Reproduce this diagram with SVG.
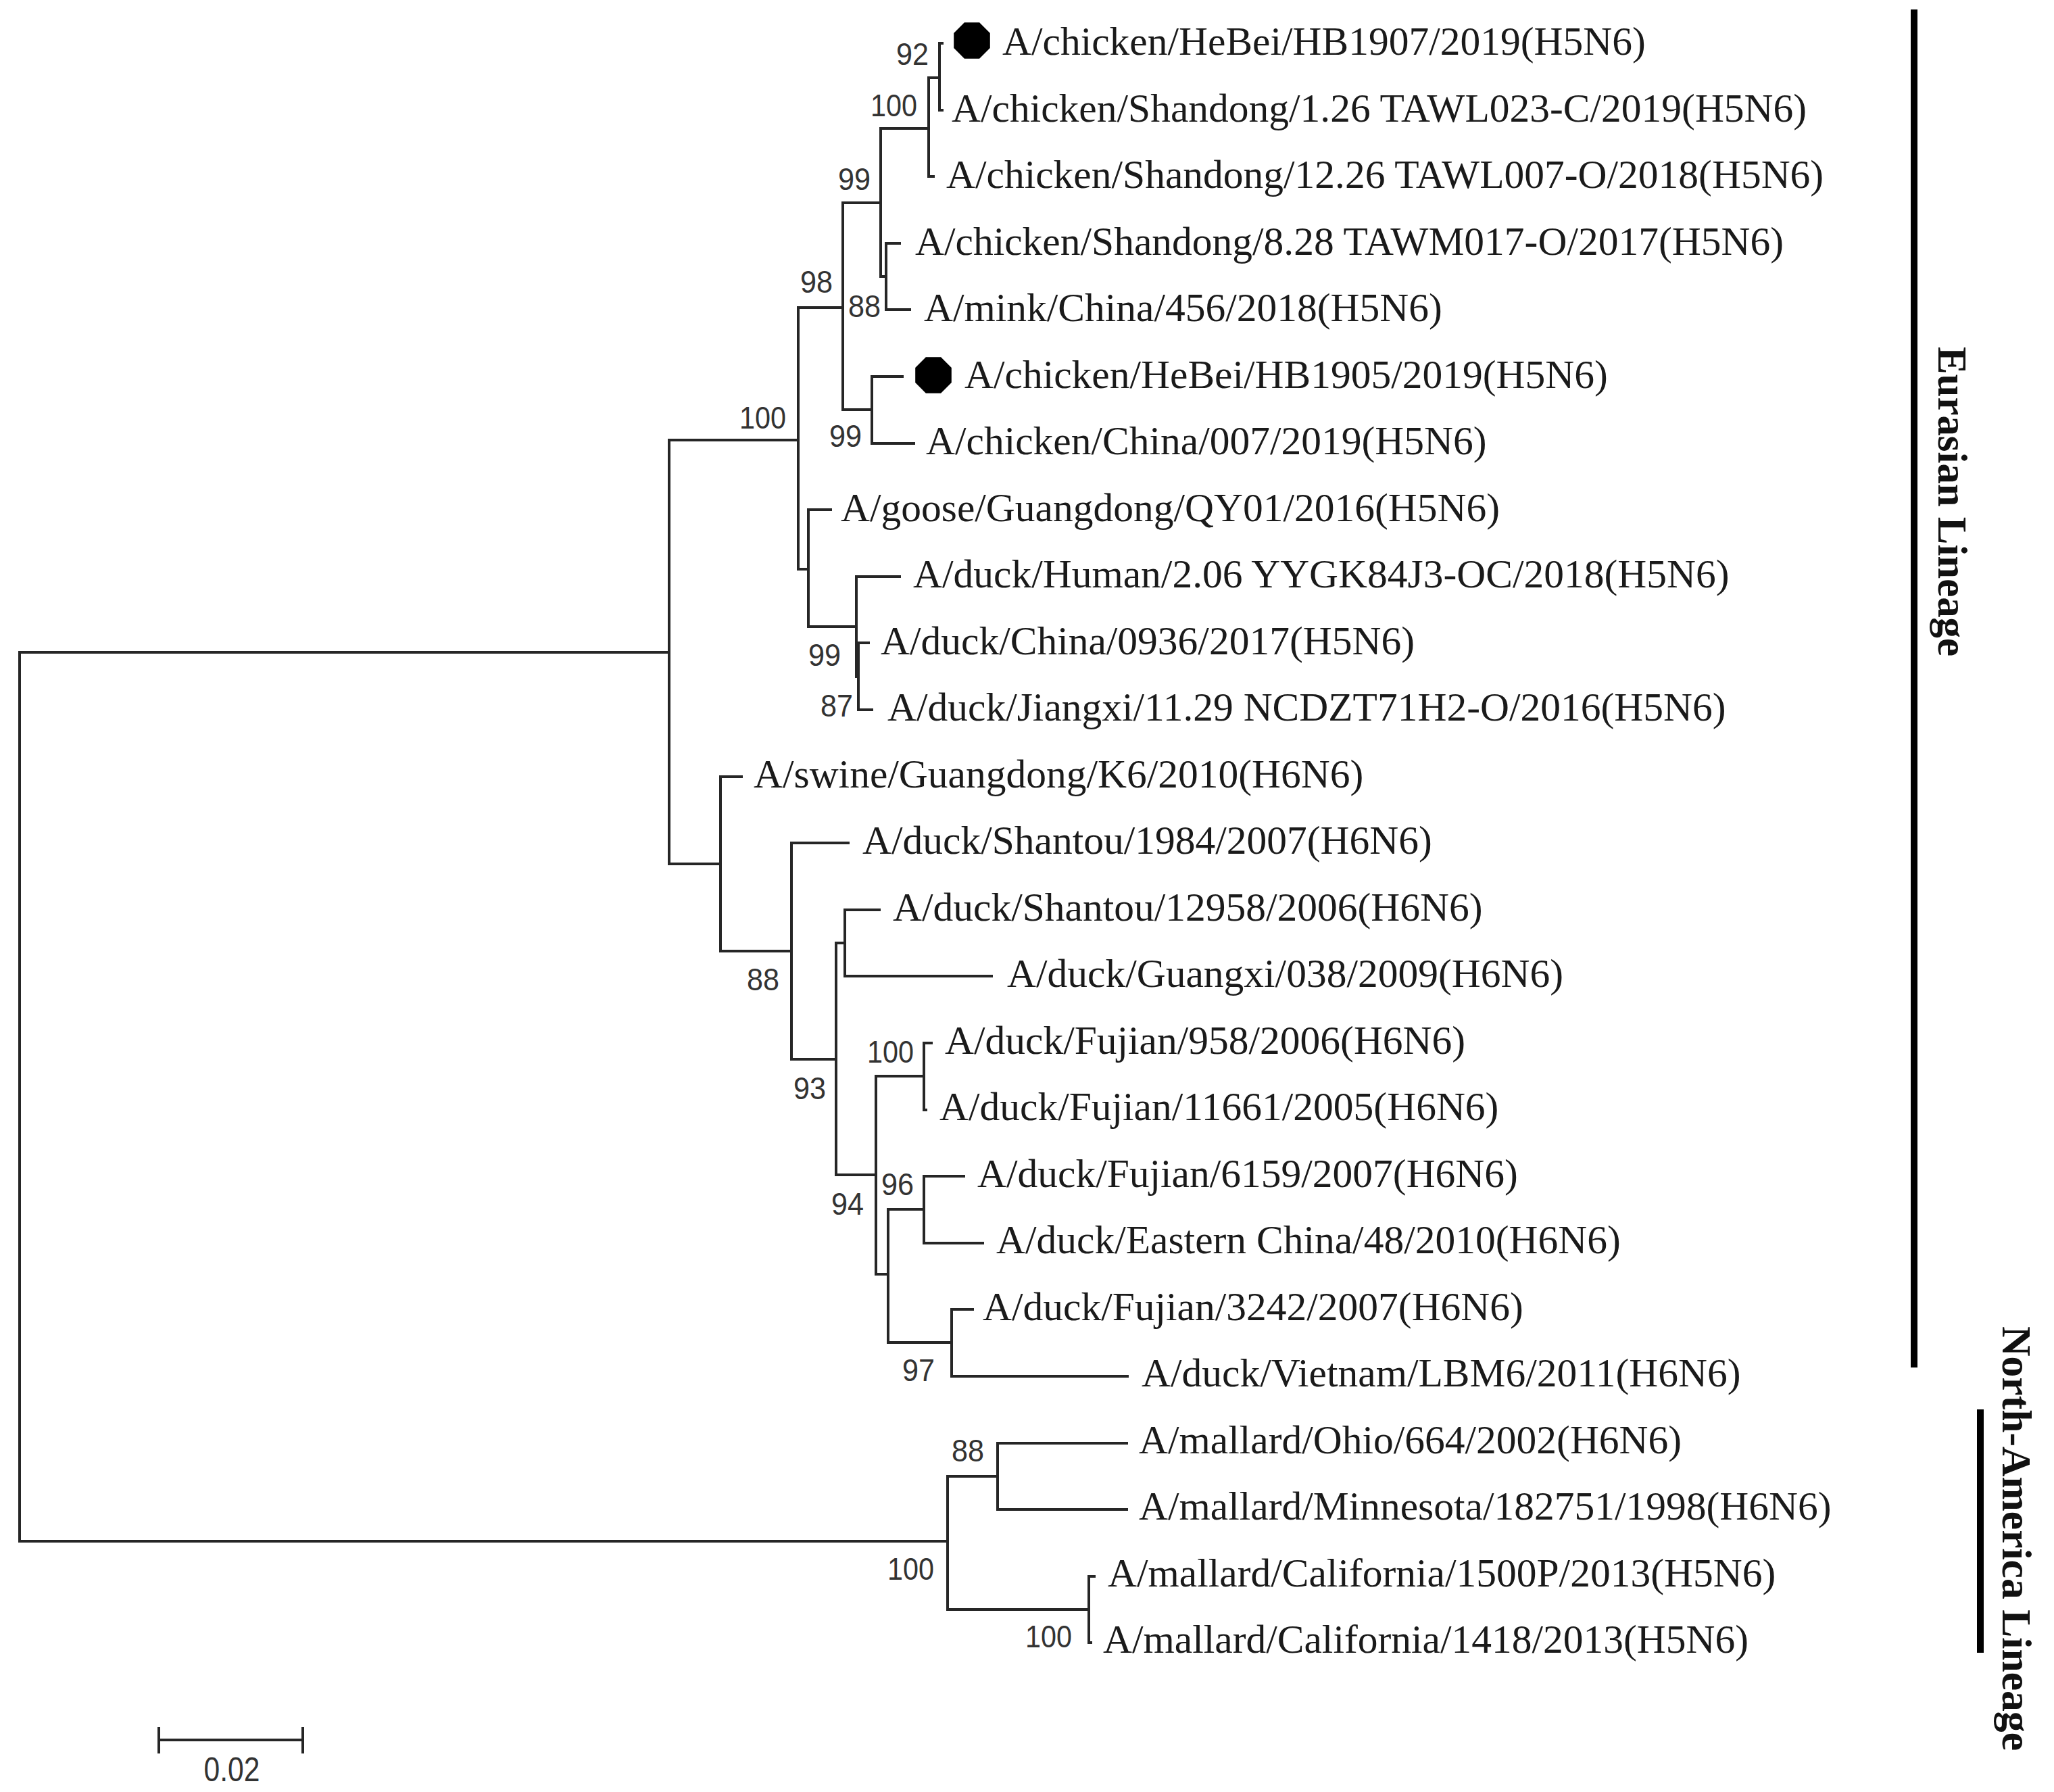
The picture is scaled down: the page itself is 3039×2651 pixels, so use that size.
<svg xmlns="http://www.w3.org/2000/svg" width="3039" height="2651" viewBox="0 0 3039 2651">
<style>
.br{fill:none;stroke:#262626;stroke-width:4;stroke-linecap:square}
.lf{font-family:"Liberation Serif","Times New Roman",serif;font-size:59.5px;fill:#1a1a1a}
.bs{font-family:"Liberation Sans",Arial,sans-serif;font-size:46px;fill:#333;text-anchor:end}
.ln{font-family:"Liberation Serif","Times New Roman",serif;font-weight:bold;fill:#111;text-anchor:middle}
.bar{stroke:#000;stroke-width:10}
.dot{fill:#000}
</style>
<defs>
<polygon id="oct" points="26.8,11.1 11.1,26.8 -11.1,26.8 -26.8,11.1 -26.8,-11.1 -11.1,-26.8 11.1,-26.8 26.8,-11.1"/>
</defs>
<rect width="3039" height="2651" fill="#fff"/>
<g id="connectors">
<path class="br" d="M29 965 V2280 M29 965 H990 M29 2280 H1402
M990 651 V1278 M990 651 H1181 M990 1278 H1066
M1181 455 V842 M1181 455 H1247 M1181 842 H1196
M1247 300 V606 M1247 300 H1303 M1247 606 H1290
M1303 190 V409 M1303 190 H1374 M1303 409 H1311
M1374 115 V261 M1374 115 H1390 M1374 261 H1381
M1390 64 V163 M1390 64 H1394 M1390 163 H1394
M1311 360 V458 M1311 360 H1331 M1311 458 H1346
M1290 557 V656 M1290 557 H1335 M1290 656 H1352
M1196 754 V927 M1196 754 H1229 M1196 927 H1267
M1267 853 V1001 M1267 853 H1331 M1267 1001 H1270
M1270 951 V1050 M1270 951 H1285 M1270 1050 H1290
M1066 1149 V1407 M1066 1149 H1097 M1066 1407 H1171
M1171 1247 V1567 M1171 1247 H1255 M1171 1567 H1237
M1237 1395 V1738 M1237 1395 H1250 M1237 1738 H1296
M1250 1346 V1444 M1250 1346 H1301 M1250 1444 H1467
M1296 1592 V1885 M1296 1592 H1367 M1296 1885 H1314
M1367 1543 V1642 M1367 1543 H1378 M1367 1642 H1370
M1314 1789 V1986 M1314 1789 H1367 M1314 1986 H1408
M1367 1740 V1839 M1367 1740 H1426 M1367 1839 H1454
M1408 1937 V2036 M1408 1937 H1439 M1408 2036 H1668
M1402 2184 V2381 M1402 2184 H1476 M1402 2381 H1611
M1476 2135 V2233 M1476 2135 H1667 M1476 2233 H1667
M1611 2332 V2430 M1611 2332 H1619 M1611 2430 H1614"/>
</g>
<g id="leaf-HB1907"><use href="#oct" class="dot" x="1438" y="60"/><text class="lf" x="1483" y="81">A/chicken/HeBei/HB1907/2019(H5N6)</text></g>
<g id="leaf-TAWL023"><text class="lf" x="1408" y="180">A/chicken/Shandong/1.26 TAWL023-C/2019(H5N6)</text></g>
<g id="leaf-TAWL007"><text class="lf" x="1400" y="278">A/chicken/Shandong/12.26 TAWL007-O/2018(H5N6)</text></g>
<g id="leaf-TAWM017"><text class="lf" x="1354" y="377">A/chicken/Shandong/8.28 TAWM017-O/2017(H5N6)</text></g>
<g id="leaf-mink"><text class="lf" x="1367" y="475">A/mink/China/456/2018(H5N6)</text></g>
<g id="leaf-HB1905"><use href="#oct" class="dot" x="1381" y="555"/><text class="lf" x="1427" y="574">A/chicken/HeBei/HB1905/2019(H5N6)</text></g>
<g id="leaf-ch007"><text class="lf" x="1370" y="672">A/chicken/China/007/2019(H5N6)</text></g>
<g id="leaf-goose"><text class="lf" x="1244" y="771">A/goose/Guangdong/QY01/2016(H5N6)</text></g>
<g id="leaf-human"><text class="lf" x="1351" y="869">A/duck/Human/2.06 YYGK84J3-OC/2018(H5N6)</text></g>
<g id="leaf-0936"><text class="lf" x="1303" y="968">A/duck/China/0936/2017(H5N6)</text></g>
<g id="leaf-jiangxi"><text class="lf" x="1313" y="1066">A/duck/Jiangxi/11.29 NCDZT71H2-O/2016(H5N6)</text></g>
<g id="leaf-swine"><text class="lf" x="1115" y="1165">A/swine/Guangdong/K6/2010(H6N6)</text></g>
<g id="leaf-st1984"><text class="lf" x="1276" y="1263">A/duck/Shantou/1984/2007(H6N6)</text></g>
<g id="leaf-st12958"><text class="lf" x="1321" y="1362">A/duck/Shantou/12958/2006(H6N6)</text></g>
<g id="leaf-gx038"><text class="lf" x="1490" y="1460">A/duck/Guangxi/038/2009(H6N6)</text></g>
<g id="leaf-fj958"><text class="lf" x="1398" y="1559">A/duck/Fujian/958/2006(H6N6)</text></g>
<g id="leaf-fj11661"><text class="lf" x="1390" y="1657">A/duck/Fujian/11661/2005(H6N6)</text></g>
<g id="leaf-fj6159"><text class="lf" x="1446" y="1756">A/duck/Fujian/6159/2007(H6N6)</text></g>
<g id="leaf-ec48"><text class="lf" x="1474" y="1854">A/duck/Eastern China/48/2010(H6N6)</text></g>
<g id="leaf-fj3242"><text class="lf" x="1454" y="1953">A/duck/Fujian/3242/2007(H6N6)</text></g>
<g id="leaf-vn"><text class="lf" x="1689" y="2051">A/duck/Vietnam/LBM6/2011(H6N6)</text></g>
<g id="leaf-ohio"><text class="lf" x="1685" y="2150">A/mallard/Ohio/664/2002(H6N6)</text></g>
<g id="leaf-minn"><text class="lf" x="1685" y="2248">A/mallard/Minnesota/182751/1998(H6N6)</text></g>
<g id="leaf-ca1500"><text class="lf" x="1639" y="2347">A/mallard/California/1500P/2013(H5N6)</text></g>
<g id="leaf-ca1418"><text class="lf" x="1632" y="2445">A/mallard/California/1418/2013(H5N6)</text></g>
<g id="bootstrap">
<text class="bs" x="1374" y="96" textLength="48" lengthAdjust="spacingAndGlyphs">92</text>
<text class="bs" x="1357" y="172" textLength="69" lengthAdjust="spacingAndGlyphs">100</text>
<text class="bs" x="1288" y="281" textLength="48" lengthAdjust="spacingAndGlyphs">99</text>
<text class="bs" x="1232" y="433" textLength="48" lengthAdjust="spacingAndGlyphs">98</text>
<text class="bs" x="1303" y="469" textLength="48" lengthAdjust="spacingAndGlyphs">88</text>
<text class="bs" x="1275" y="661" textLength="48" lengthAdjust="spacingAndGlyphs">99</text>
<text class="bs" x="1163" y="634" textLength="69" lengthAdjust="spacingAndGlyphs">100</text>
<text class="bs" x="1244" y="985" textLength="48" lengthAdjust="spacingAndGlyphs">99</text>
<text class="bs" x="1262" y="1060" textLength="48" lengthAdjust="spacingAndGlyphs">87</text>
<text class="bs" x="1153" y="1465" textLength="48" lengthAdjust="spacingAndGlyphs">88</text>
<text class="bs" x="1222" y="1626" textLength="48" lengthAdjust="spacingAndGlyphs">93</text>
<text class="bs" x="1352" y="1572" textLength="69" lengthAdjust="spacingAndGlyphs">100</text>
<text class="bs" x="1278" y="1797" textLength="48" lengthAdjust="spacingAndGlyphs">94</text>
<text class="bs" x="1352" y="1768" textLength="48" lengthAdjust="spacingAndGlyphs">96</text>
<text class="bs" x="1383" y="2043" textLength="48" lengthAdjust="spacingAndGlyphs">97</text>
<text class="bs" x="1456" y="2162" textLength="48" lengthAdjust="spacingAndGlyphs">88</text>
<text class="bs" x="1382" y="2337" textLength="69" lengthAdjust="spacingAndGlyphs">100</text>
<text class="bs" x="1586" y="2437" textLength="69" lengthAdjust="spacingAndGlyphs">100</text>
</g>
<g id="scale-bar">
<path class="br" d="M235 2574 H448 M235 2557 V2592 M448 2557 V2592"/>
<text x="343" y="2635" font-family="Liberation Sans, Arial, sans-serif" font-size="50" fill="#333" text-anchor="middle" textLength="83" lengthAdjust="spacingAndGlyphs">0.02</text>
</g>
<g id="lineage-eurasian">
<line class="bar" x1="2832" y1="14" x2="2832" y2="2023"/>
<text class="ln" font-size="61" transform="translate(2868,742) rotate(90)" textLength="458" lengthAdjust="spacingAndGlyphs">Eurasian Lineage</text>
</g>
<g id="lineage-northamerica">
<line class="bar" x1="2930" y1="2085" x2="2930" y2="2445"/>
<text class="ln" font-size="62" transform="translate(2963,2276) rotate(90)" textLength="628" lengthAdjust="spacingAndGlyphs">North-America Lineage</text>
</g>
</svg>
